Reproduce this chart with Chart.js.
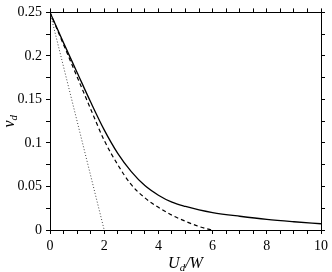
<!DOCTYPE html>
<html>
<head>
<meta charset="utf-8">
<script src="https://cdn.jsdelivr.net/npm/chart.js@4"></script>
<style>
  html, body { margin: 0; padding: 0; background: #fff; }
  canvas { display: block; }
</style>
</head>
<body>
<canvas id="chart" width="332" height="272"></canvas>
<script>
// Curve data
const solidX = [0, 0.5, 1, 1.5, 2, 2.5, 3, 3.5, 4, 4.5, 5, 5.5, 6, 7, 8, 9, 10];
const solidY = [0.25, 0.215, 0.181, 0.147, 0.115, 0.088, 0.067, 0.051, 0.040, 0.032, 0.027, 0.023, 0.020, 0.0158, 0.0122, 0.0095, 0.0072];

const dashedX = [0, 0.5, 1, 1.5, 2, 2.5, 3, 3.5, 4, 4.5, 5, 5.5, 5.95];
const dashedY = [0.25, 0.213, 0.176, 0.139, 0.103, 0.075, 0.052, 0.037, 0.026, 0.017, 0.010, 0.004, 0];

const dottedX = [0, 2];
const dottedY = [0.25, 0];

const xTickLabels = [0, 2, 4, 6, 8, 10];
const yTickLabels = [0, 0.05, 0.1, 0.15, 0.2, 0.25];

const FONT = 'Liberation Serif';

function pts(xs, ys) {
    return xs.map((x, i) => ({ x: x, y: ys[i] }));
}

// Axis titles with subscripts
const titlePlugin = {
    id: 'titles',
    afterDraw(chart) {
        const ctx = chart.ctx;
        const area = chart.chartArea;
        ctx.save();
        ctx.fillStyle = '#000';
        ctx.textBaseline = 'alphabetic';

        // x title: U_d/W
        const big = 'italic 16px ' + FONT;
        const small = 'italic 11px ' + FONT;
        ctx.font = big;
        const wU = ctx.measureText('U').width;
        const wSlashW = ctx.measureText('/W').width;
        ctx.font = small;
        const wd = ctx.measureText('d').width;
        let x = (area.left + area.right) / 2 - (wU + wd + wSlashW) / 2;
        const y = 268;
        ctx.font = big;
        ctx.fillText('U', x, y);
        x += wU;
        ctx.font = small;
        ctx.fillText('d', x, y + 3);
        x += wd;
        ctx.font = big;
        ctx.fillText('/W', x, y);

        // y title: nu_d rotated
        ctx.translate(14, (area.top + area.bottom) / 2);
        ctx.rotate(-Math.PI / 2);
        ctx.font = big;
        const wn = ctx.measureText('\u03BD').width;
        ctx.font = small;
        const wd2 = ctx.measureText('d').width;
        let xx = -(wn + wd2) / 2;
        ctx.font = big;
        ctx.fillText('\u03BD', xx, 0);
        xx += wn;
        ctx.font = small;
        ctx.fillText('d', xx, 3);
        ctx.restore();
    }
};

const tickFont = { family: FONT, size: 14 };

new Chart(document.getElementById('chart').getContext('2d'), {
    type: 'line',
    data: {
        datasets: [
            {
                data: pts(solidX, solidY),
                borderColor: '#000',
                borderWidth: 1.3,
                pointRadius: 0,
                cubicInterpolationMode: 'monotone',
                fill: false
            },
            {
                data: pts(dashedX, dashedY),
                borderColor: '#000',
                borderWidth: 1.2,
                borderDash: [4, 3],
                pointRadius: 0,
                cubicInterpolationMode: 'monotone',
                fill: false
            },
            {
                data: pts(dottedX, dottedY),
                borderColor: '#444',
                borderWidth: 1,
                borderDash: [1, 2],
                pointRadius: 0,
                fill: false
            }
        ]
    },
    options: {
        responsive: false,
        animation: false,
        layout: { padding: 0 },
        plugins: {
            legend: { display: false },
            tooltip: { enabled: false }
        },
        scales: {
            x: {
                type: 'linear',
                position: 'bottom',
                min: 0,
                max: 10,
                border: { display: true, color: '#000', width: 1 },
                grid: { drawOnChartArea: false, drawTicks: true, tickLength: 4, color: '#000' },
                ticks: {
                    stepSize: 0.5,
                    autoSkip: false,
                    maxRotation: 0,
                    padding: 4,
                    color: '#000',
                    font: tickFont,
                    callback: function(v) {
                        return xTickLabels.includes(v) ? String(v) : '';
                    }
                },
                afterFit: function(s) { s.height = 42; }
            },
            x2: {
                type: 'linear',
                position: 'top',
                min: 0,
                max: 10,
                border: { display: true, color: '#000', width: 1 },
                grid: { drawOnChartArea: false, drawTicks: true, tickLength: 4, color: '#000' },
                ticks: { stepSize: 0.5, autoSkip: false, display: false },
                afterFit: function(s) { s.height = 7; }
            },
            y: {
                type: 'linear',
                position: 'left',
                min: 0,
                max: 0.25,
                border: { display: true, color: '#000', width: 1 },
                grid: { drawOnChartArea: false, drawTicks: true, tickLength: 4, color: '#000' },
                ticks: {
                    stepSize: 0.025,
                    autoSkip: false,
                    padding: 4,
                    color: '#000',
                    font: tickFont,
                    callback: function(v) {
                        const r = Math.round(v * 1000) / 1000;
                        return yTickLabels.includes(r) ? String(r) : '';
                    }
                },
                afterFit: function(s) { s.width = 50; }
            },
            y2: {
                type: 'linear',
                position: 'right',
                min: 0,
                max: 0.25,
                border: { display: true, color: '#000', width: 1 },
                grid: { drawOnChartArea: false, drawTicks: true, tickLength: 4, color: '#000' },
                ticks: { stepSize: 0.025, autoSkip: false, display: false },
                afterFit: function(s) { s.width = 6; }
            }
        }
    },
    plugins: [titlePlugin]
});
</script>
</body>
</html>
